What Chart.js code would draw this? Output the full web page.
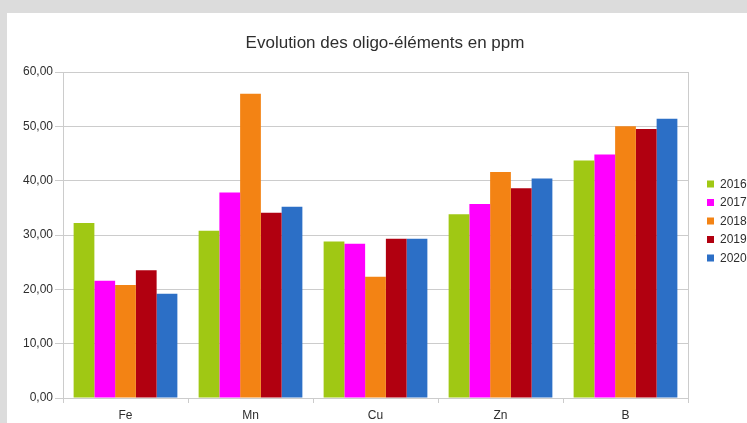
<!DOCTYPE html>
<html>
<head>
<meta charset="utf-8">
<script src="https://cdn.jsdelivr.net/npm/chart.js@4"></script>
<style>
    html, body { margin: 0; padding: 0; background: #dcdcdc; overflow: hidden; }
    #panel { position: absolute; left: 7px; top: 13px; width: 760px; height: 420px; background: #ffffff; }
    #wrap { position: absolute; left: 0; top: 0; width: 740px; height: 410px; }
</style>
</head>
<body>
<div id="panel"><div id="wrap"><canvas id="chart"></canvas></div></div>
<script>
const categories = ['Fe', 'Mn', 'Cu', 'Zn', 'B'];
const years = ['2016', '2017', '2018', '2019', '2020'];
const colors = ['#a0c814', '#ff00ff', '#f38314', '#b10010', '#2c6fc6'];

const values2016 = [32.2, 30.8, 28.8, 33.8, 43.7];
const values2017 = [21.6, 37.8, 28.4, 35.7, 44.8];
const values2018 = [20.8, 56.0, 22.3, 41.6, 50.0];
const values2019 = [23.5, 34.1, 29.3, 38.6, 49.5];
const values2020 = [19.2, 35.2, 29.3, 40.4, 51.4];

const title = 'Evolution des oligo-éléments en ppm';
const textColor = '#2e2e2e';
const gridColor = '#cccccc';
const fontFamily = '"Liberation Sans", Arial, sans-serif';

const series = [values2016, values2017, values2018, values2019, values2020];

// title, legend and right border drawn by hand to match the LibreOffice look
const decorations = {
    id: 'decorations',
    afterDraw(chart) {
        const ctx = chart.ctx;
        const area = chart.chartArea;
        ctx.save();

        ctx.strokeStyle = gridColor;
        ctx.lineWidth = 1;
        ctx.beginPath();
        ctx.moveTo(Math.round(area.right) + 0.5, area.top);
        ctx.lineTo(Math.round(area.right) + 0.5, area.bottom);
        ctx.stroke();

        ctx.fillStyle = textColor;
        ctx.font = '17px ' + fontFamily;
        ctx.textAlign = 'center';
        ctx.textBaseline = 'middle';
        ctx.fillText(title, 378, 30);

        const step = 18.5;
        const mid = (area.top + area.bottom) / 2 - 14;
        const first = mid - step * (chart.data.datasets.length - 1) / 2;
        ctx.font = '12px ' + fontFamily;
        ctx.textAlign = 'left';
        chart.data.datasets.forEach((ds, i) => {
            const y = first + i * step;
            ctx.fillStyle = ds.backgroundColor;
            ctx.fillRect(area.right + 19, y - 3.5, 7, 7);
            ctx.fillStyle = textColor;
            ctx.fillText(ds.label, area.right + 32, y + 0.5);
        });
        ctx.restore();
    }
};

new Chart(document.getElementById('chart'), {
    type: 'bar',
    data: {
        labels: categories,
        datasets: years.map((year, i) => ({
            label: year,
            data: series[i],
            backgroundColor: colors[i],
            borderWidth: 0,
            barPercentage: 1,
            categoryPercentage: 0.83
        }))
    },
    options: {
        responsive: true,
        maintainAspectRatio: false,
        animation: false,
        layout: { padding: { left: 0, top: 59, right: 59, bottom: 0 } },
        plugins: {
            legend: { display: false },
            title: { display: false },
            tooltip: { enabled: false }
        },
        scales: {
            x: {
                afterFit(scale) { scale.height = 25; },
                grid: { display: true, drawOnChartArea: false, tickLength: 5, color: gridColor },
                border: { color: gridColor },
                ticks: { color: textColor, font: { family: fontFamily, size: 12 }, padding: 5 }
            },
            y: {
                min: 0,
                max: 60,
                afterFit(scale) { scale.width = 56; },
                grid: { color: gridColor, tickLength: 8 },
                border: { color: gridColor },
                ticks: {
                    stepSize: 10,
                    color: textColor,
                    font: { family: fontFamily, size: 12 },
                    padding: 2,
                    callback: v => v.toFixed(2).replace('.', ',')
                }
            }
        }
    },
    plugins: [decorations]
});
</script>
</body>
</html>
